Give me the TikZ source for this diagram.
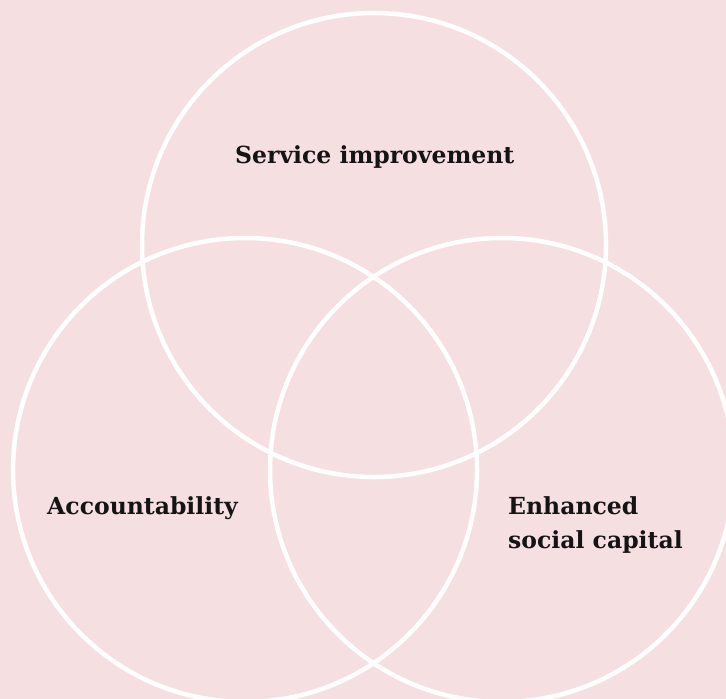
\documentclass[tikz,border=0pt]{standalone}
\usepackage{fontspec}
\setmainfont{DejaVu Serif}
\definecolor{bgpink}{RGB}{246,223,224}
\definecolor{txt}{RGB}{20,20,20}
\begin{document}
\begin{tikzpicture}[x=1bp,y=-1bp,
  ring/.style={draw=white,line width=4.5bp},
  lbl/.style={text=txt,font=\bfseries\fontsize{23.6}{34}\selectfont,inner sep=0pt,anchor=base west,align=left}]
\fill[bgpink] (0,0) rectangle (726,699);
\useasboundingbox (0,0) rectangle (726,699);
\begin{scope}
\clip (0,0) rectangle (726,699);
\node[ring,circle,minimum size=464bp,inner sep=0pt] (top) at (374,245) {};
\node[ring,circle,minimum size=464bp,inner sep=0pt] (left) at (245,470) {};
\node[ring,circle,minimum size=464bp,inner sep=0pt] (right) at (502,470) {};
\end{scope}
\node[lbl] (s) at (235,163) {Service improvement};
\node[lbl] (a) at (47,514) {Accountability};
\node[lbl] (e) at (508,548) {Enhanced\\social capital};
\end{tikzpicture}
\end{document}
